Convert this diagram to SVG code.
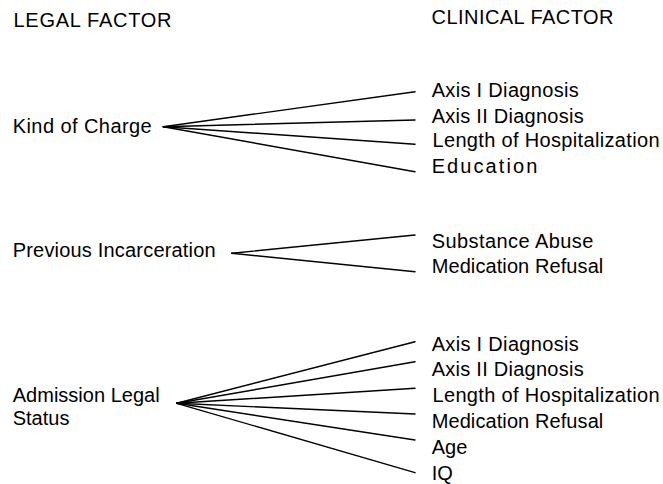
<svg xmlns="http://www.w3.org/2000/svg" width="663" height="484" viewBox="0 0 663 484">
<style>
text{font-family:"Liberation Sans",Arial,sans-serif;font-size:20px;fill:#000}
.c line{stroke:#000;stroke-width:1.4;stroke-linecap:round}
</style>
<rect width="663" height="484" fill="#fff"/>
<g id="headers">
<text x="13.5" y="26.7" textLength="158" lengthAdjust="spacing">LEGAL FACTOR</text>
<text x="431.5" y="23.5" textLength="182" lengthAdjust="spacing">CLINICAL FACTOR</text>
</g>
<g id="legal-kind"><text x="12.7" y="132.7" textLength="139" lengthAdjust="spacing">Kind of Charge</text></g>
<g id="legal-prev"><text x="12.7" y="257.3" textLength="203" lengthAdjust="spacing">Previous Incarceration</text></g>
<g id="legal-adm"><text x="12.7" y="401.7" textLength="147" lengthAdjust="spacing">Admission Legal</text><text x="12.7" y="425">Status</text></g>
<g id="clin-1">
<text x="431.7" y="97.3" textLength="147" lengthAdjust="spacing">Axis I Diagnosis</text>
<text x="431.7" y="122.7" textLength="152" lengthAdjust="spacing">Axis II Diagnosis</text>
<text x="432.5" y="146.7" textLength="227" lengthAdjust="spacing">Length of Hospitalization</text>
<text x="431.7" y="172.7" textLength="105.6" lengthAdjust="spacing">Education</text>
</g>
<g id="clin-2">
<text x="431.7" y="247.7" textLength="161.6" lengthAdjust="spacing">Substance Abuse</text>
<text x="431.7" y="272.7" textLength="171.6" lengthAdjust="spacing">Medication Refusal</text>
</g>
<g id="clin-3">
<text x="431.7" y="350.7" textLength="147" lengthAdjust="spacing">Axis I Diagnosis</text>
<text x="431.7" y="376" textLength="152" lengthAdjust="spacing">Axis II Diagnosis</text>
<text x="432.5" y="401.7" textLength="227" lengthAdjust="spacing">Length of Hospitalization</text>
<text x="431.7" y="427.7" textLength="171.6" lengthAdjust="spacing">Medication Refusal</text>
<text x="431.7" y="454.3">Age</text>
<text x="431.7" y="480">IQ</text>
</g>
<g id="connectors" class="c">
<line x1="163.3" y1="126.7" x2="415" y2="91.7"/>
<line x1="163.3" y1="126.7" x2="415" y2="120"/>
<line x1="163.3" y1="126.7" x2="415" y2="144.3"/>
<line x1="163.3" y1="126.7" x2="415" y2="171.7"/>
<line x1="231.7" y1="253.3" x2="415" y2="235"/>
<line x1="231.7" y1="253.3" x2="415" y2="271.7"/>
<line x1="176.7" y1="403.3" x2="415" y2="341.7"/>
<line x1="176.7" y1="403.3" x2="415" y2="361.7"/>
<line x1="176.7" y1="403.3" x2="415" y2="388.3"/>
<line x1="176.7" y1="403.3" x2="415" y2="414"/>
<line x1="176.7" y1="403.3" x2="415" y2="440"/>
<line x1="176.7" y1="403.3" x2="415" y2="472.7"/>
</g>
</svg>
